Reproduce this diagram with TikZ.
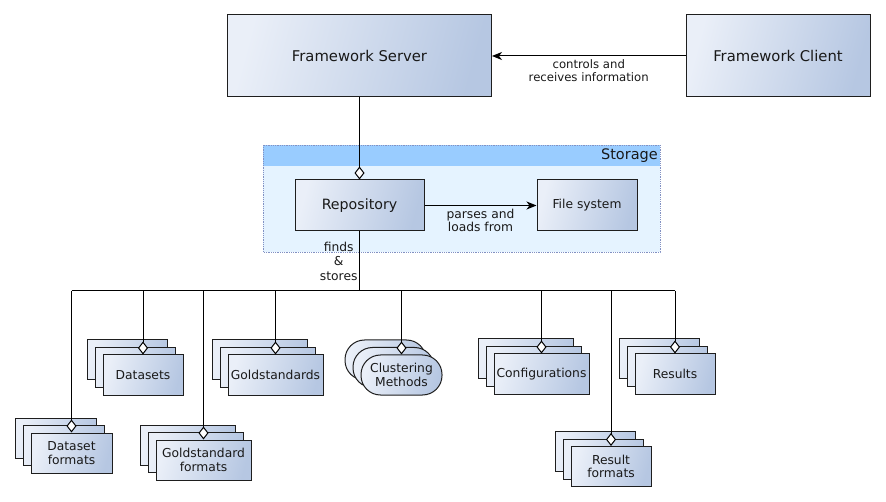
\documentclass[tikz,border=0pt]{standalone}
\usepackage{fontspec}
\setmainfont{DejaVu Sans}
\usetikzlibrary{arrows.meta}
\definecolor{gl}{RGB}{234,239,248}
\definecolor{gd}{RGB}{182,199,226}
\definecolor{sthead}{RGB}{153,204,255}
\definecolor{stbody}{RGB}{229,243,255}
\definecolor{stborder}{RGB}{130,145,195}
\definecolor{edge}{RGB}{30,30,30}
\definecolor{txt}{RGB}{25,25,25}
\newcommand\mystack[6]{%
  \node[#5, minimum width=#4] (#1-b) at (#2-16,#3-15) {};
  \node[#5, minimum width=#4] (#1-m) at (#2-8,#3-7.5) {};
  \node[#5, minimum width=#4] (#1) at (#2,#3) {#6};
}
\tikzset{
  shadebox/.style={draw=edge, line width=1pt, top color=gl, bottom color=gd, shading angle=75, inner sep=0pt, text=txt},
  itembox/.style={shadebox, minimum height=40pt, align=center, font=\fontsize{12.3}{13.5}\selectfont},
  itemround/.style={itembox, rounded corners=19.5pt},
  agg/.style={draw=black, line width=1pt, -{Diamond[fill=white,length=13pt,width=10pt]}},
  flow/.style={draw=black, line width=1pt, -{Stealth[length=10pt,width=8pt,inset=3pt]}},
  edgelbl/.style={font=\fontsize{12.3}{13.5}\selectfont, align=center, inner sep=3pt, text=txt},
}
\begin{document}
\begin{tikzpicture}[x=1pt,y=-1pt]
\useasboundingbox (0,0) rectangle (886,502);
% top boxes
\node[shadebox, minimum width=264pt, minimum height=82pt, font=\fontsize{14.8}{16}\selectfont] (server) at (359.5,56) {Framework Server};
\node[shadebox, minimum width=184pt, minimum height=82pt, font=\fontsize{14.8}{16}\selectfont] (client) at (778,56) {Framework Client};
% storage package
\fill[stbody] (263,145) rectangle (660,252);
\fill[sthead] (263,145) rectangle (660,166);
\draw[stborder, densely dotted, line width=0.8pt] (263,145) rectangle (660,252);
\node[anchor=east, inner sep=0pt, text=txt, font=\fontsize{14.5}{16}\selectfont] (storagelbl) at (658,156) {Storage};
\node[shadebox, minimum width=129pt, minimum height=51pt, font=\fontsize{14.2}{16}\selectfont] (repo) at (359.5,205.5) {Repository};
\node[shadebox, minimum width=100pt, minimum height=51pt, font=\fontsize{12.3}{14}\selectfont] (fs) at (587,205.5) {File system};
% stacked items
\mystack{df}{71.5}{453}{81pt}{itembox}{Dataset\\formats}
\mystack{ds}{143}{375}{80pt}{itembox}{Datasets}
\mystack{gf}{203.5}{460}{95pt}{itembox}{Goldstandard\\formats}
\mystack{gs}{275.5}{375}{95pt}{itembox}{Goldstandards}
\mystack{cm}{401.5}{375}{81pt}{itemround}{Clustering\\Methods}
\mystack{cf}{541.5}{374}{95pt}{itembox}{Configurations}
\mystack{rf}{611}{466.5}{80pt}{itembox}{Result\\formats}
\mystack{rs}{675}{374}{80pt}{itembox}{Results}
% connectors
\draw[flow] (client.west) -- node[below, edgelbl, font=\fontsize{11.7}{13}\selectfont] (ctrllbl) {controls and\\receives information} (server.east);
\draw[agg] (server.south) -- (repo.north);
\draw[flow] (repo.east) -- node[below, edgelbl] (parselbl) {parses and\\loads from} (fs.west);
\coordinate (bus) at (359.5,291);
\coordinate (busL) at (71.5,291);
\coordinate (busR) at (675,291);
\draw[line width=1pt] (repo.south) -- node[left, edgelbl, inner sep=1.5pt, font=\fontsize{12.3}{14.2}\selectfont] (findslbl) {finds\\\&\\stores} (bus);
\draw[line width=1pt] (busL) -- (busR);
\foreach \n in {df,ds,gf,gs,cm,cf,rf,rs}{
  \draw[agg] (\n.north |- bus) -- (\n.north);
}
\end{tikzpicture}
\end{document}
